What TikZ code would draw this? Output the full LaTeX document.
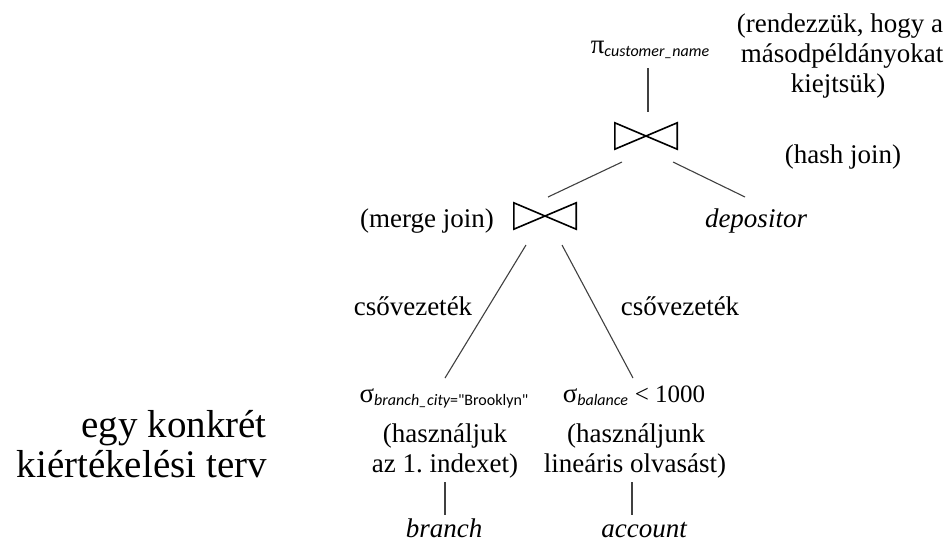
\documentclass[tikz,border=0pt]{standalone}
\usepackage{fontspec}
\setmainfont{Liberation Serif}
\newfontfamily\subfnt{Carlito}
\frenchspacing
\begin{document}
\begin{tikzpicture}[x=1pt,y=-1pt,
  txt/.style={anchor=base,inner sep=0pt,font=\fontsize{27}{30}\selectfont,align=center},
  big/.style={anchor=base east,inner sep=0pt,font=\fontsize{39}{40}\selectfont,align=right},
  conn/.style={draw=black!75,line width=1.1pt},
  bow/.style={draw=black,line width=1.6pt,line join=miter},
  joinbox/.style={inner sep=0pt,minimum width=62pt,minimum height=26pt}]
\useasboundingbox (0,0) rectangle (952,542);
% operator nodes
\node[txt] (proj) at (650,53) {π\raisebox{-3pt}{\subfnt\fontsize{16}{16}\selectfont\itshape customer\_name}};
\node[joinbox] (hj) at (646,136) {};
\node[joinbox] (mj) at (545,216) {};
\node[txt] (depositor) at (756,227) {\itshape depositor};
\node[txt] (selb) at (444,402) {σ\raisebox{-3pt}{\subfnt\fontsize{16}{16}\selectfont\itshape branch\_city\upshape="Brooklyn"}};
\node[txt] (sela) at (634,402) {σ\raisebox{-3pt}{\subfnt\fontsize{16}{16}\selectfont\itshape balance} {\fontsize{25}{25}\selectfont< 1000}};
\node[txt] (branch) at (444,537) {\itshape branch};
\node[txt] (account) at (644,537) {\itshape account};
% bowties
\draw[bow] (hj.north west) -- (hj.south east) -- (hj.north east) -- (hj.south west) -- cycle;
\draw[bow] (mj.north west) -- (mj.south east) -- (mj.north east) -- (mj.south west) -- cycle;
% annotations
\node[txt] (note1) at (840,32) {(rendezzük, hogy a};
\node[txt] (note2) at (842,62) {másodpéldányokat};
\node[txt] (note3) at (838,92) {kiejtsük)};
\node[txt] (hashlbl) at (843,163) {(hash join)};
\node[txt,anchor=base east] (mergelbl) at (494,227) {(merge join)};
\node[txt] (pipe1) at (413,315) {csővezeték};
\node[txt] (pipe2) at (680,315) {csővezeték};
\node[txt] (idx1) at (445,442) {(használjuk};
\node[txt] (idx2) at (445,472) {az 1. indexet)};
\node[txt] (lin1) at (636,442) {(használjunk};
\node[txt] (lin2) at (635,472) {lineáris olvasást)};
\node[big] (title1) at (267,437) {egy konkrét};
\node[big] (title2) at (267,477) {kiértékelési terv};
% connector end points
\coordinate (p1) at (648,68);
\coordinate (p2) at (648,112);
\coordinate (h1) at (622,162);
\coordinate (h2) at (548,197);
\coordinate (h3) at (673,162);
\coordinate (h4) at (745,197);
\coordinate (m1) at (526,245);
\coordinate (m2) at (445,378);
\coordinate (m3) at (562,245);
\coordinate (m4) at (633,378);
\coordinate (b1) at (445,482);
\coordinate (b2) at (445,515);
\coordinate (a1) at (632,482);
\coordinate (a2) at (632,515);
\draw[conn] (p1) -- (p2);
\draw[conn] (h1) -- (h2);
\draw[conn] (h3) -- (h4);
\draw[conn] (m1) -- (m2);
\draw[conn] (m3) -- (m4);
\draw[conn] (b1) -- (b2);
\draw[conn] (a1) -- (a2);
\end{tikzpicture}
\end{document}
